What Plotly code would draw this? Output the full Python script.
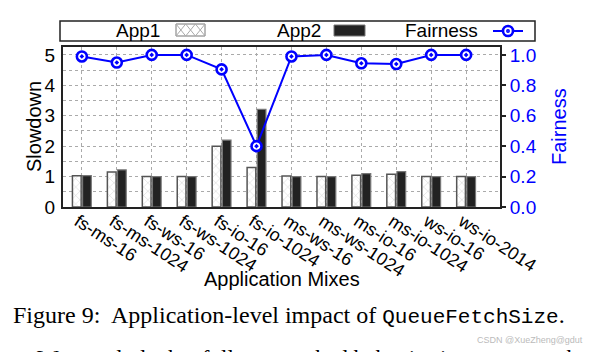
import plotly.graph_objects as go

# ---------------- data ----------------
categories = ["fs-ms-16", "fs-ms-1024", "fs-ws-16", "fs-ws-1024", "fs-io-16", "fs-io-1024",
              "ms-ws-16", "ms-ws-1024", "ms-io-16", "ms-io-1024", "ws-io-16", "ws-io-2014"]
app1_slowdown = [1.03, 1.15, 1.00, 1.00, 2.00, 1.30, 1.02, 1.00, 1.04, 1.08, 1.00, 1.00]
app2_slowdown = [1.03, 1.22, 1.00, 1.00, 2.20, 3.21, 1.00, 1.00, 1.10, 1.16, 1.00, 1.00]
fairness = [0.99, 0.95, 1.00, 1.00, 0.905, 0.40, 0.99, 1.00, 0.945, 0.94, 1.00, 1.00]
left_ticks = [0, 1, 2, 3, 4, 5]
right_ticks = [0.0, 0.2, 0.4, 0.6, 0.8, 1.0]

W, H = 589, 352
PL, PR, PT, PB = 63, 500, 47, 207


def px(x):
    return (x - PL) / (PR - PL)


def py(y):
    return (PB - y) / (PB - PT)


FONT = "Liberation Sans, Arial, Helvetica, sans-serif"
BLUE = "#0000ff"

fig = go.Figure()
fig.add_trace(go.Bar(
    x=categories, y=app1_slowdown, name="App1",
    marker=dict(color="white", line=dict(color="#555", width=1.5),
                pattern=dict(shape="x", fgcolor="#999", bgcolor="white", size=6, solidity=0.15)),
))
fig.add_trace(go.Bar(
    x=categories, y=app2_slowdown, name="App2",
    marker=dict(color="#222", line=dict(color="#777", width=1.2)),
))
fig.add_trace(go.Scatter(
    x=categories, y=fairness, name="Fairness", yaxis="y2", mode="lines+markers",
    line=dict(color=BLUE, width=2),
    marker=dict(symbol="circle-dot", size=10, color="white", line=dict(color=BLUE, width=2.6)),
))

shapes = []
annotations = []

# legend box
shapes.append(dict(type="rect", xref="paper", yref="paper", x0=px(60), x1=px(535), y0=py(41), y1=py(21),
                   line=dict(color="#222", width=1.5), fillcolor="white", layer="above"))
leg_y = py(31)
for txt, xr in [("App1", 162), ("App2", 323), ("Fairness", 480)]:
    annotations.append(dict(text=txt, xref="paper", yref="paper", x=px(xr), y=leg_y, xanchor="right",
                            yanchor="middle", showarrow=False, font=dict(family=FONT, size=19, color="black")))
# App1 swatch
shapes.append(dict(type="rect", xref="paper", yref="paper", x0=px(176), x1=px(205), y0=py(36), y1=py(24),
                   line=dict(color="#777", width=1), fillcolor="white", layer="above"))
path = ""
for k in range(3):
    xa, xb = 176 + 9.7 * k, 176 + 9.7 * (k + 1)
    path += f"M{px(xa)},{py(24)} L{px(xb)},{py(36)} M{px(xb)},{py(24)} L{px(xa)},{py(36)} "
shapes.append(dict(type="path", xref="paper", yref="paper", path=path,
                   line=dict(color="#aaa", width=1), layer="above"))
# App2 swatch
shapes.append(dict(type="rect", xref="paper", yref="paper", x0=px(334), x1=px(365), y0=py(36), y1=py(25),
                   line=dict(color="#777", width=1), fillcolor="#222", layer="above"))
# Fairness swatch
shapes.append(dict(type="line", xref="paper", yref="paper", x0=px(493), x1=px(523), y0=leg_y, y1=leg_y,
                   line=dict(color=BLUE, width=2), layer="above"))
shapes.append(dict(type="circle", xref="paper", yref="paper", x0=px(503), x1=px(513), y0=py(36), y1=py(26),
                   line=dict(color=BLUE, width=2.6), fillcolor="white", layer="above"))
shapes.append(dict(type="circle", xref="paper", yref="paper", x0=px(506.8), x1=px(509.2), y0=py(32.2), y1=py(29.8),
                   line=dict(color=BLUE, width=1.5), fillcolor="white", layer="above"))

# axis titles
annotations.append(dict(text="Slowdown", xref="paper", yref="paper", x=px(34), y=py(127), textangle=-90,
                        showarrow=False, xanchor="center", yanchor="middle",
                        font=dict(family=FONT, size=20, color="black")))
annotations.append(dict(text="Fairness", xref="paper", yref="paper", x=px(559), y=py(127), textangle=-90,
                        showarrow=False, xanchor="center", yanchor="middle",
                        font=dict(family=FONT, size=20, color=BLUE)))
annotations.append(dict(text="Application Mixes", xref="paper", yref="paper", x=px(282), y=py(279),
                        showarrow=False, xanchor="center", yanchor="middle",
                        font=dict(family=FONT, size=20, color="black")))
# caption
annotations.append(dict(
    text="Figure 9:  Application-level impact of <span style='font-family:Liberation Mono, DejaVu Sans Mono, monospace; font-size:21px'>QueueFetchSize</span>.",
    xref="paper", yref="paper", x=px(11), y=py(315), xanchor="left", yanchor="middle", showarrow=False,
    font=dict(family="Liberation Serif, Times New Roman, serif", size=24, color="black")))
annotations.append(dict(
    text="We conclude that fully networked behavior improves on the i",
    xref="paper", yref="paper", x=px(35), y=py(344), xanchor="left", yanchor="top", showarrow=False,
    font=dict(family="Liberation Serif, Times New Roman, serif", size=23, color="black")))
annotations.append(dict(
    text="CSDN @XueZheng@gdut", xref="paper", yref="paper", x=px(585), y=py(340), xanchor="right",
    yanchor="middle", showarrow=False, font=dict(family=FONT, size=9, color="#bbbbbb")))

fig.update_layout(
    width=W, height=H,
    margin=dict(l=PL, r=W - PR, t=PT, b=H - PB, autoexpand=False),
    paper_bgcolor="white", plot_bgcolor="white",
    barmode="group", bargap=0.42, bargroupgap=0.14,
    showlegend=False,
    shapes=shapes, annotations=annotations,
    xaxis=dict(
        type="category", range=[-0.54, 11.97], tickangle=33,
        tickfont=dict(family=FONT, size=18, color="black"),
        ticklabelstandoff=-5, ticklabelshift=-4,
        showgrid=True, gridcolor="#aaaaaa", griddash="dot", gridwidth=1,
        showline=True, mirror=True, linecolor="#222", linewidth=2, ticks="",
    ),
    yaxis=dict(
        range=[0, 5.26], tickvals=left_ticks, ticktext=[str(v) for v in left_ticks],
        tickfont=dict(family=FONT, size=19, color="black"),
        showgrid=True, gridcolor="#aaaaaa", griddash="dot", gridwidth=1,
        minor=dict(dtick=0.5, showgrid=True, gridcolor="#aaaaaa", griddash="dot", gridwidth=1),
        showline=True, mirror=True, linecolor="#222", linewidth=2, ticks="", zeroline=False,
        ticklabelstandoff=2,
    ),
    yaxis2=dict(
        overlaying="y", side="right", range=[0, 1.052], tickvals=right_ticks,
        ticktext=[f"{v:.1f}" for v in right_ticks],
        tickfont=dict(family=FONT, size=19, color=BLUE),
        showgrid=False, zeroline=False, showline=True, linecolor="#222", linewidth=2,
        ticks="outside", ticklen=4, tickcolor="#222", tickwidth=1.5,
    ),
)

fig.write_html("out.html")
